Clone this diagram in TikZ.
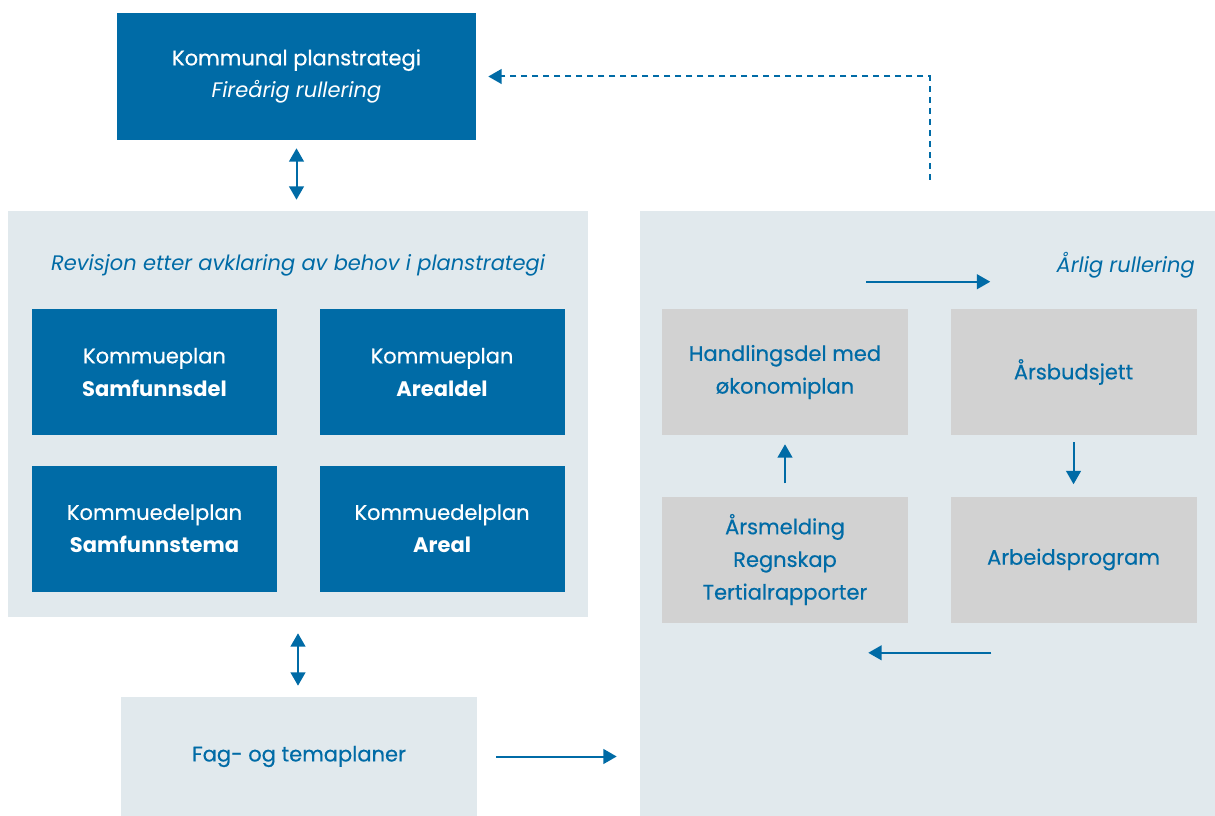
\documentclass[tikz,border=0pt]{standalone}
\usepackage{fontspec}
\setmainfont{Poppins}[UprightFeatures={FakeBold=0.5}]
\usepackage{tikz}
\usetikzlibrary{arrows.meta,positioning}

\definecolor{planblue}{HTML}{006BA6}
\definecolor{panelgray}{HTML}{E1E9ED}
\definecolor{boxgray}{HTML}{D2D2D2}

\begin{document}
\begin{tikzpicture}[x=0.75pt, y=-0.75pt, node distance=22.5pt and 31.5pt, font=\fontsize{15.75}{24.5}\selectfont]
    % Define styles
    \tikzstyle{panel} = [rectangle, fill=panelgray, inner sep=0pt]
    \tikzstyle{mainbox} = [rectangle, fill=planblue, text=white, align=center, minimum width=183.75pt, minimum height=94.5pt]
    \tikzstyle{cyclebox} = [rectangle, fill=boxgray, text=planblue, align=center, minimum width=184.5pt, minimum height=94.5pt]
    \tikzstyle{arrow} = [planblue, line width=1.5pt, -{Triangle[length=10pt,width=11pt]}]
    \tikzstyle{twoway} = [planblue, line width=1.5pt, {Triangle[length=10pt,width=11pt]}-{Triangle[length=10pt,width=11pt]}]

    \useasboundingbox (0,0) rectangle (1215,816);

    % Panels
    \node [panel, minimum width=435pt, minimum height=304.5pt] (revisjon) at (298,414) {};
    \node [panel, minimum width=431.25pt, minimum height=453.75pt] (aarlig) at (927.5,513.5) {};
    \node [panel, text=planblue, minimum width=267pt, minimum height=89.25pt] (fag) at (299,756.5) {Fag- og temaplaner};
    \node [text=planblue, font=\fontsize{15.75}{24.5}\selectfont\itshape] (revisjontekst) at (298,265) {Revisjon etter avklaring av behov i planstrategi};
    \node [text=planblue, font=\fontsize{15.75}{24.5}\selectfont\itshape, anchor=east, inner sep=0pt] (aarligtekst) at (1195,265) {Årlig rullering};

    % Nodes
    \node [mainbox, minimum width=269.25pt, minimum height=95.25pt] (strategi) at (296.5,76.5) {Kommunal planstrategi\\\textit{Fireårig rullering}};
    \node [mainbox] (samfunnsdel) at (154.5,372) {Kommueplan\\\textbf{Samfunnsdel}};
    \node [mainbox, right=of samfunnsdel] (arealdel) {Kommueplan\\\textbf{Arealdel}};
    \node [mainbox, below=of samfunnsdel] (samfunnstema) {Kommuedelplan\\\textbf{Samfunnstema}};
    \node [mainbox, right=of samfunnstema] (areal) {Kommuedelplan\\\textbf{Areal}};

    \node [cyclebox] (handling) at (785,372) {Handlingsdel med\\økonomiplan};
    \node [cyclebox, right=of handling] (budsjett) {Årsbudsjett};
    \node [cyclebox, below=45.75pt of handling] (melding) {Årsmelding\\Regnskap\\Tertialrapporter};
    \node [cyclebox, right=of melding] (arbeid) {Arbeidsprogram};

    % Arrows
    \draw [twoway, shorten <=6pt, shorten >=8.25pt] (strategi.south) -- (strategi.south |- revisjon.north);
    \draw [twoway, shorten <=12pt, shorten >=8.25pt] (revisjon.south) -- (revisjon.south |- fag.north);
    \draw [arrow, shorten <=14.25pt, shorten >=17.25pt] (fag.east) -- (fag.east -| aarlig.west);
    \draw [arrow] ([shift={(-31.5pt,20.25pt)}]handling.north east) -- ([shift={(30pt,20.25pt)}]budsjett.north west);
    \draw [arrow, shorten <=5.25pt, shorten >=9pt] (budsjett.south) -- (arbeid.north);
    \draw [arrow] ([shift={(30.75pt,-22.5pt)}]arbeid.south west) -- ([shift={(-30pt,-22.5pt)}]melding.south east);
    \draw [arrow, shorten <=9.75pt, shorten >=6.75pt] (melding.north) -- (handling.south);
    \coordinate [above=23.25pt of aarlig.north, xshift=1.9pt] (retur);
    \draw [arrow, dash pattern=on 4.5pt off 3.75pt, shorten >=9pt] (retur) |- (strategi.east);
\end{tikzpicture}
\end{document}
